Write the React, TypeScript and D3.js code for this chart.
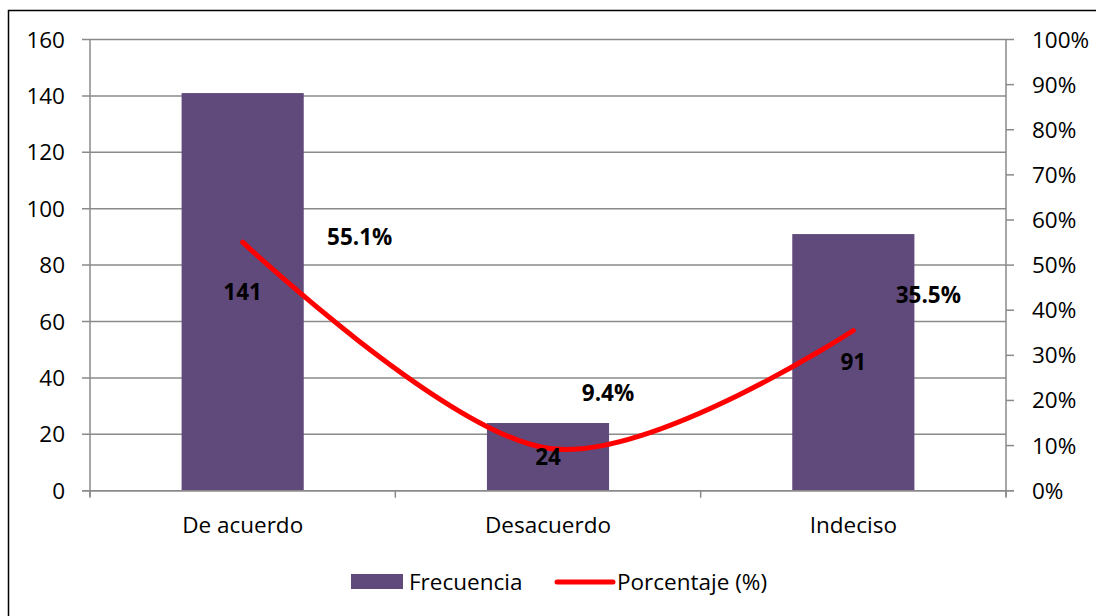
import React from "react";
import * as d3 from "d3";

const categories = ["De acuerdo", "Desacuerdo", "Indeciso"];
const frecuencia = [141, 24, 91];
const porcentaje = [55.1, 9.4, 35.5];
const leftTicks = [0, 20, 40, 60, 80, 100, 120, 140, 160];
const rightTicks = [0, 10, 20, 30, 40, 50, 60, 70, 80, 90, 100];
const seriesNames = ["Frecuencia", "Porcentaje (%)"];

// layout-only offsets for percentage labels (px from point)
const pctLabelOffsets: [number, number][] = [
  [117, -5],
  [60, -55],
  [75, -36],
];

const W = 1096;
const H = 616;
const plot = { left: 90, right: 1006, top: 39.5, bottom: 490.7 };
const BAR = "#604A7B";
const GRID = "#8a8a8a";
const FONT = "'Open Sans', 'Noto Sans', sans-serif";
const FS = 22.5;
const FSB = 22.5;

export default function App() {
  const x = d3
    .scaleBand<string>()
    .domain(categories)
    .range([plot.left, plot.right])
    .padding(0);
  const y = d3.scaleLinear().domain([0, 160]).range([plot.bottom, plot.top]);
  const y2 = d3.scaleLinear().domain([0, 100]).range([plot.bottom, plot.top]);
  const bw = x.bandwidth() * 0.4;

  const pts: [number, number][] = categories.map((c, i) => [
    (x(c) as number) + x.bandwidth() / 2,
    y2(porcentaje[i]),
  ]);
  const line = d3.line().curve(d3.curveCardinal.tension(0))(pts) || "";

  const catEdges = [...categories.map((c) => x(c) as number), plot.right];

  return (
    <svg
      width={W}
      height={H}
      style={{ position: "absolute", left: 0, top: 0, background: "#fff" }}
      fontFamily={FONT}
    >
      <rect x={0} y={0} width={W} height={H} fill="#fff" />
      <rect x={8.5} y={10.5} width={W + 20} height={H + 20} fill="none" stroke="#000" strokeWidth={1.5} />

      {/* gridlines */}
      {leftTicks.map((t) => (
        <line key={"g" + t} x1={plot.left - 8} x2={plot.right} y1={y(t)} y2={y(t)} stroke={GRID} strokeWidth={1.5} />
      ))}
      {/* left axis */}
      <line x1={plot.left} x2={plot.left} y1={plot.top} y2={plot.bottom + 6} stroke={GRID} strokeWidth={1.5} />
      {leftTicks.map((t) => (
        <text key={"l" + t} x={65} y={y(t) + 8} textAnchor="end" fontSize={FS} fill="#000">
          {t}
        </text>
      ))}
      {/* right axis */}
      <line x1={plot.right} x2={plot.right} y1={plot.top} y2={plot.bottom + 6} stroke={GRID} strokeWidth={1.5} />
      {rightTicks.map((t) => (
        <g key={"r" + t}>
          <line x1={plot.right} x2={plot.right + 8} y1={y2(t)} y2={y2(t)} stroke={GRID} strokeWidth={1.5} />
          <text x={1032} y={y2(t) + 8} textAnchor="start" fontSize={FS} fill="#000">
            {t + "%"}
          </text>
        </g>
      ))}
      {/* category ticks */}
      {catEdges.map((e, i) => (
        <line key={"c" + i} x1={e} x2={e} y1={plot.bottom} y2={plot.bottom + 7} stroke={GRID} strokeWidth={1.5} />
      ))}

      {/* bars */}
      {categories.map((c, i) => (
        <rect
          key={"b" + c}
          x={(x(c) as number) + (x.bandwidth() - bw) / 2}
          y={y(frecuencia[i])}
          width={bw}
          height={plot.bottom - y(frecuencia[i])}
          fill={BAR}
        />
      ))}
      {/* x axis line on top */}
      <line x1={plot.left - 8} x2={plot.right + 8} y1={plot.bottom} y2={plot.bottom} stroke={GRID} strokeWidth={1.5} />

      {/* category labels */}
      {categories.map((c) => (
        <text key={"t" + c} x={(x(c) as number) + x.bandwidth() / 2} y={533} textAnchor="middle" fontSize={FS} fill="#000">
          {c}
        </text>
      ))}

      {/* line */}
      <path d={line} fill="none" stroke="#FF0000" strokeWidth={5} strokeLinecap="round" />

      {/* bar value labels */}
      {categories.map((c, i) => (
        <text
          key={"v" + c}
          x={(x(c) as number) + x.bandwidth() / 2}
          y={(y(frecuencia[i]) + plot.bottom) / 2 + 8}
          textAnchor="middle"
          fontSize={FSB}
          fontWeight="bold"
          fill="#000"
        >
          {frecuencia[i]}
        </text>
      ))}
      {/* percentage labels */}
      {pts.map((p, i) => (
        <text
          key={"p" + i}
          x={p[0] + pctLabelOffsets[i][0]}
          y={p[1] + pctLabelOffsets[i][1] + 8}
          textAnchor="middle"
          fontSize={FSB}
          fontWeight="bold"
          fill="#000"
        >
          {porcentaje[i].toFixed(1) + "%"}
        </text>
      ))}

      {/* legend */}
      <rect x={351} y={574} width={52} height={15} fill={BAR} />
      <text x={409} y={590} fontSize={FS} fill="#000">
        {seriesNames[0]}
      </text>
      <line x1={557} x2={613} y1={582} y2={582} stroke="#FF0000" strokeWidth={5} strokeLinecap="round" />
      <text x={617} y={590} fontSize={FS} fill="#000">
        {seriesNames[1]}
      </text>
    </svg>
  );
}
